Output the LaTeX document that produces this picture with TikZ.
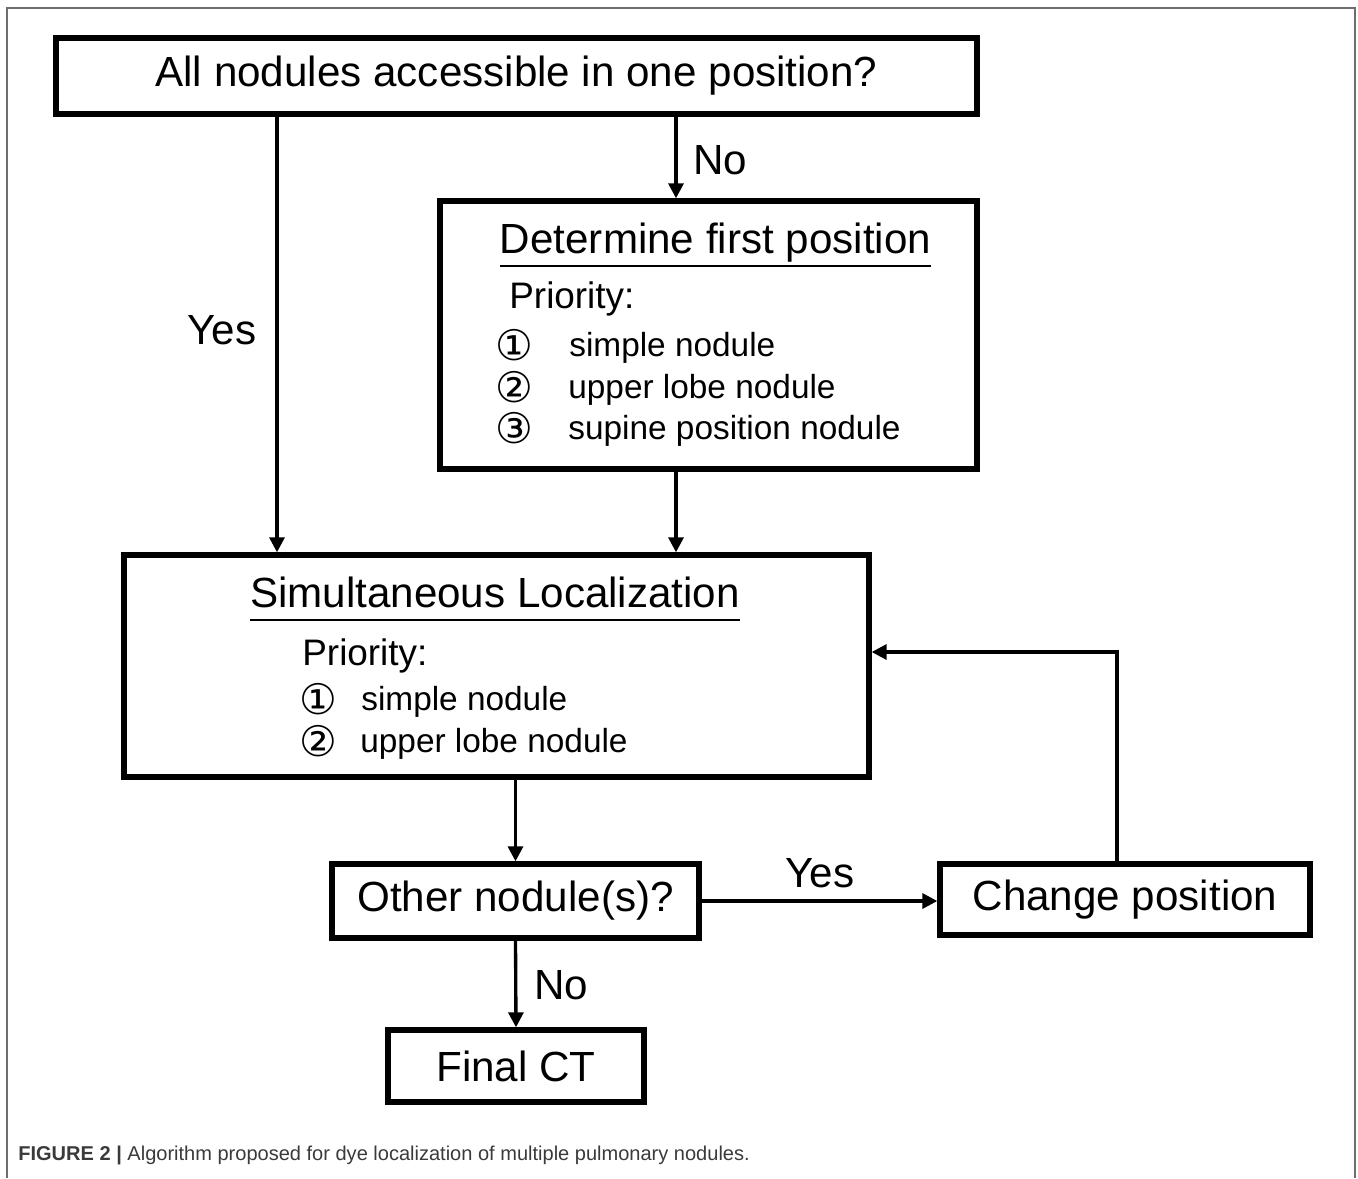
\documentclass[tikz,border=0pt]{standalone}
\usepackage{fontspec}
\setmainfont{Liberation Sans}
\newfontfamily\circfont{DejaVu Sans}
\usetikzlibrary{arrows.meta}
\definecolor{framegray}{HTML}{6E6E6E}
\definecolor{capgray}{HTML}{3A3A3A}

\begin{document}
\begin{tikzpicture}[x=0.02cm,y=-0.02cm]
		\tikzstyle{every node}+=[inner sep=0pt]
		\tikzstyle{box}=[draw=black, line width=3.1pt]
		\tikzstyle{big}=[font=\fontsize{24}{28}\selectfont]
		\tikzstyle{heading}=[big, text depth=7pt]
		\tikzstyle{uline}=[black, line width=1.1pt]
		\tikzstyle{prio}=[font=\fontsize{21}{25}\selectfont, anchor=west]
		\tikzstyle{item}=[font=\fontsize{19}{23}\selectfont, anchor=west]
		\tikzstyle{num}=[font=\circfont\fontsize{24}{28}\selectfont]
		\tikzstyle{arr}=[black, line width=1.9pt, -{Triangle[width=8.5pt,length=8.5pt]}]
		\useasboundingbox (0,0) rectangle (1358,1178);
		\draw [framegray, line width=0.9pt] (7,1178) -- (7,8) -- (1355,8) -- (1355,1178);
		\node [box, big, minimum width=18.42cm, minimum height=1.52cm] (allq) at (516.5,76) {All nodules accessible in one position?};
		\node [box, minimum width=10.74cm, minimum height=5.36cm] (first) at (708.5,335) {};
		\node [heading, anchor=base] (firsttitle) at (715.5,253) {Determine first position};
		\draw [uline] (firsttitle.south west) -- (firsttitle.south east);
		\node [prio] (firstprio) at (509,299) {Priority:};
		\node [num] (firstn1) at (514,345) {①};
		\node [item] (firsti1) at (569,348) {simple nodule};
		\node [num] (firstn2) at (514,387) {②};
		\node [item] (firsti2) at (568,390) {upper lobe nodule};
		\node [num] (firstn3) at (514,428) {③};
		\node [item] (firsti3) at (568,431) {supine position nodule};
		\node [box, minimum width=14.9cm, minimum height=4.44cm] (simul) at (496.5,666) {};
		\node [heading, anchor=base] (simultitle) at (495,607) {Simultaneous Localization};
		\draw [uline] (simultitle.south west) -- (simultitle.south east);
		\node [prio] (simulprio) at (302,656) {Priority:};
		\node [num] (simuln1) at (318,699) {①};
		\node [item] (simuli1) at (361,702) {simple nodule};
		\node [num] (simuln2) at (318,741) {②};
		\node [item] (simuli2) at (360,744) {upper lobe nodule};
		\node [box, big, minimum width=7.34cm, minimum height=1.48cm] (other) at (515.5,901) {Other nodule(s)?};
		\node [box, big, minimum width=7.4cm, minimum height=1.42cm] (change) at (1125,899.5) {Change position};
		\node [box, big, minimum width=5.12cm, minimum height=1.44cm] (final) at (516,1066) {Final CT};
		\coordinate (noline) at (676,0);
		\coordinate (yesline) at (277,0);
		\coordinate (loop) at (1117,652);
		\draw [arr] (allq.south -| noline) -- (first.north -| noline);
		\node [big] (nolabel) at (720,160) {No};
		\draw [arr] (allq.south -| yesline) -- (simul.north -| yesline);
		\node [big] (yeslabel) at (222,330) {Yes};
		\draw [arr] (first.south -| noline) -- (simul.north -| noline);
		\draw [arr] (simul.south -| other.north) -- (other.north);
		\draw [arr] (other.east) -- (other.east -| change.west);
		\node [big] (yeslabel2) at (820,873) {Yes};
		\draw [arr] (change.north -| loop) -- (loop) -- (loop -| simul.east);
		\draw [arr] (other.south) -- (final.north);
		\node [big] (nolabel2) at (561,985) {No};
		\node [anchor=west, text=capgray, font=\fontsize{11.4}{14}\selectfont] (caption) at (18,1155) {\textbf{FIGURE 2 |} Algorithm proposed for dye localization of multiple pulmonary nodules.};
	\end{tikzpicture}
\end{document}
